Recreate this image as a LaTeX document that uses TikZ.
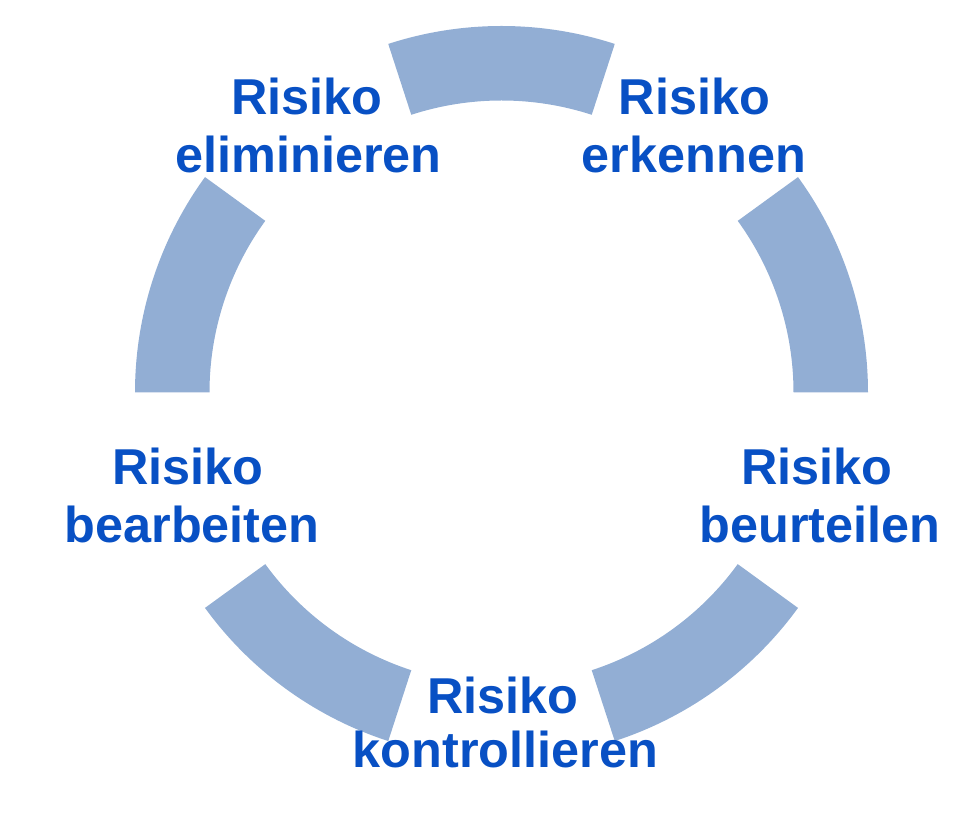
\documentclass[tikz,border=0pt]{standalone}
\usepackage{fontspec}
\setmainfont{Liberation Sans}
\usetikzlibrary{calc}
\definecolor{segblue}{RGB}{146,174,212}
\definecolor{txtblue}{RGB}{8,80,196}
\begin{document}
\begin{tikzpicture}[x=0.75pt,y=0.75pt,
  seg/.style={fill=segblue,draw=none},
  lbl/.style={anchor=base,inner sep=0pt,text=txtblue,font=\fontsize{37.8}{44}\selectfont\bfseries}]
\useasboundingbox (0,0) rectangle (976,822);
\coordinate (c) at (501.5,429.5);
\foreach \a in {0,72,144,216,288}{
  \fill[seg] ($(c)+(\a:366.5)$) arc[start angle=\a,end angle=\a+36,radius=366.5]
    -- ($(c)+(\a+36:292)$) arc[start angle=\a+36,end angle=\a,radius=292] -- cycle;
}
\node[lbl] (el1) at (307,707) {Risiko};
\node[lbl] (el2) at (308.5,649) {eliminieren};
\node[lbl] (er1) at (694.5,707) {Risiko};
\node[lbl] (er2) at (694,649) {erkennen};
\node[lbl] (ba1) at (188,337) {Risiko};
\node[lbl] (ba2) at (192,279) {bearbeiten};
\node[lbl] (bu1) at (817,337) {Risiko};
\node[lbl] (bu2) at (820,279) {beurteilen};
\node[lbl] (ko1) at (503,108) {Risiko};
\node[lbl] (ko2) at (505.5,54) {kontrollieren};
\end{tikzpicture}
\end{document}
